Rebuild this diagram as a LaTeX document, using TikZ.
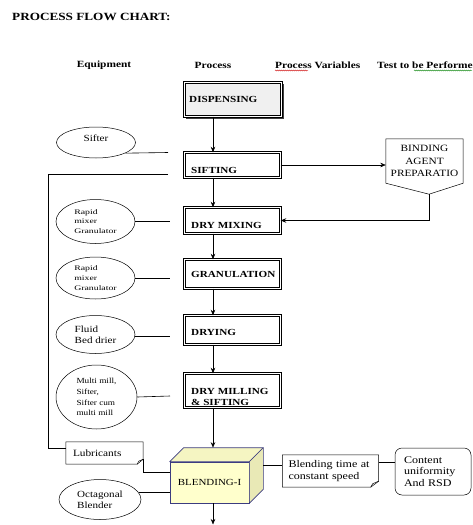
\documentclass[tikz,border=0pt]{standalone}
\usepackage{fontspec}
\setmainfont{Liberation Serif}
\newfontfamily\wrm[FakeStretch=1.18]{Liberation Serif}
\newfontfamily\wbf[FakeStretch=1.2]{Liberation Serif}
\newfontfamily\wnar[FakeStretch=1.4]{Liberation Serif}
\usetikzlibrary{shapes.geometric,arrows.meta,decorations.pathmorphing}
\definecolor{cubeline}{HTML}{3C3C80}
\definecolor{cubefront}{HTML}{FFFFCC}
\definecolor{cubetop}{HTML}{F5F5C2}
\definecolor{cubeside}{HTML}{E9E9B6}
\definecolor{dispfill}{HTML}{F0F0F0}
\tikzset{
  ln/.style={line width=0.6pt, draw=black},
  arr/.style={ln, -{Stealth[length=5.5pt,width=4.5pt]}},
  pbox/.style={draw, double, double distance=1.2pt, line width=0.45pt, fill=white, inner sep=0, minimum width=96pt},
  ptxt/.style={font=\wbf\bfseries\fontsize{9.3}{10.5}\selectfont, inner sep=0, anchor=west, align=left},
  hdr/.style={font=\wbf\bfseries\fontsize{9.5}{11}\selectfont, inner sep=0},
  ell/.style={ellipse, draw, line width=0.5pt, inner sep=0, align=left},
  etxt/.style={font=\wrm\fontsize{9.4}{11}\selectfont},
  rtxt/.style={font=\wnar\fontsize{7}{9.7}\selectfont},
  notebox/.style={inner sep=0, align=left},
}
\begin{document}
\begin{tikzpicture}[x=1pt,y=-1pt]
\useasboundingbox (0,0) rectangle (472,525);
% title and headers
\node[anchor=west, font=\wbf\bfseries\fontsize{11}{13}\selectfont, inner sep=0] (title) at (12,17) {PROCESS FLOW CHART:};
\node[hdr] (hEq) at (104,65) {Equipment};
\node[hdr] (hPr) at (213,65) {Process};
\node[hdr, anchor=west] (hPV) at (275,65) {Process Variables};
\node[hdr, anchor=west] (hTest) at (377,65) {Test to be Performed};
\draw[red!80!black, line width=0.4pt, decorate, decoration={snake, segment length=2pt, amplitude=0.5pt}] (275,70.5) -- (308,70.5);
\draw[green!50!black, line width=0.4pt, decorate, decoration={snake, segment length=2pt, amplitude=0.5pt}] (414,70.5) -- (472,70.5);

\coordinate (ax) at (213,0);

% process boxes
\draw[line width=1.6pt, black!75] (186,118) -- (283.5,118) -- (283.5,84);
\node[pbox, fill=dispfill, minimum width=97pt, minimum height=34pt] (disp) at (233,99.5) {};
\node[ptxt] (dispT) at (189,99.5) {DISPENSING};

\node[pbox, minimum height=25pt] (sift) at (232.5,165) {};
\node[ptxt] (siftT) at (191,170.5) {SIFTING};

\node[pbox, minimum height=26pt] (mix) at (232.5,220.5) {};
\node[ptxt] (mixT) at (191,225) {DRY MIXING};

\node[pbox, minimum height=29pt] (gran) at (232.5,274) {};
\node[ptxt] (granT) at (191,274.5) {GRANULATION};

\node[pbox, minimum height=29pt] (dry) at (232.5,330) {};
\node[ptxt] (dryT) at (191,332) {DRYING};

\node[pbox, minimum height=34pt] (mill) at (232.5,390.5) {};
\node[ptxt] (millT) at (191,397) {DRY MILLING\\\& SIFTING};

% cube
\node[draw=cubeline, fill=cubefront, line width=0.6pt, minimum width=79pt, minimum height=41pt, inner sep=0,
      font=\wrm\fontsize{9.3}{11}\selectfont] (blend) at (209.5,482.5) {BLENDING-I};
\draw[draw=cubeline, fill=cubetop, line width=0.6pt, line join=round]
  (blend.north west) -- ([shift={(14pt,14pt)}]blend.north west) -- ([shift={(14pt,14pt)}]blend.north east) -- (blend.north east) -- cycle;
\draw[draw=cubeline, fill=cubeside, line width=0.6pt, line join=round]
  (blend.north east) -- ([shift={(14pt,14pt)}]blend.north east) -- ([shift={(14pt,14pt)}]blend.south east) -- (blend.south east) -- cycle;

% vertical flow arrows
\draw[arr] (disp.south -| ax) -- (sift.north -| ax);
\draw[arr] (sift.south -| ax) -- (mix.north -| ax);
\draw[arr] (mix.south -| ax) -- (gran.north -| ax);
\draw[arr] (gran.south -| ax) -- (dry.north -| ax);
\draw[arr] (dry.south -| ax) -- (mill.north -| ax);
\coordinate (ctop) at ([yshift=14pt]blend.north -| ax);
\draw[arr] (mill.south -| ax) -- (ctop);
\coordinate (outc) at (213,524.5);
\draw[arr] (blend.south -| ax) -- (outc);

% binding agent
\node[notebox, align=center, minimum width=77pt, minimum height=44pt, font=\wrm\fontsize{9.6}{12.3}\selectfont] (bind) at (424.5,161) {BINDING\\AGENT\\PREPARATIO};
\coordinate (bindtip) at ([shift={(4.5pt,-11pt)}]bind.south);
\draw[line width=0.5pt] (bind.north west) -- (bind.north east) -- (bind.south east) -- (bindtip) -- (bind.south west) -- cycle;
\draw[arr] (sift.east) -- (sift.east -| bind.west);
\draw[arr] (bindtip) |- (mix.east);

% equipment ellipses
\node[ell, etxt, minimum width=79pt, minimum height=31pt] (sifter) at (96,142.5) {Sifter\\[-3pt]\mbox{}};
\coordinate (sifterEnd) at (168,152.5);
\draw[ln] (sifter.-20) -- (sifterEnd);

\node[ell, rtxt, minimum width=79pt, minimum height=44pt] (rm1) at (95.5,221.5) {Rapid\\mixer\\Granulator};
\coordinate (rm1End) at (170,221.5);
\draw[ln] (rm1.east) -- (rm1End);

\node[ell, rtxt, minimum width=79pt, minimum height=42pt] (rm2) at (95.5,278) {Rapid\\mixer\\Granulator};
\coordinate (rm2End) at (170,278);
\draw[ln] (rm2.east) -- (rm2End);

\node[ell, etxt, minimum width=79pt, minimum height=38pt] (fbd) at (95.5,334.5) {Fluid\\Bed drier};
\coordinate (fbdEnd) at (170,336);
\draw[ln] (fbd.east |- fbdEnd) ++(-0.5pt,0) -- (fbdEnd);

\node[ell, font=\wrm\fontsize{7.8}{10.8}\selectfont, minimum width=81pt, minimum height=64pt] (mm) at (96.5,397) {Multi mill,\\Sifter,\\Sifter cum\\multi mill};
\coordinate (mmEnd) at (170,396);
\draw[ln] (mm.east) -- (mmEnd);

\node[ell, etxt, minimum width=82pt, minimum height=40pt] (oct) at (100,499.5) {Octagonal\\Blender};
\draw[ln] (oct.10) -- (oct.10 -| blend.west);

% lubricants note
\node[notebox, text width=63pt, inner xsep=7pt, minimum height=22pt, font=\wrm\fontsize{9.6}{11}\selectfont] (lub) at (104.5,453) {Lubricants};
\draw[line width=0.5pt] (lub.north west) -- (lub.north east) -- ([yshift=5pt]lub.south east) -- ([xshift=-6pt]lub.south east) -- (lub.south west) -- cycle;
\draw[line width=0.5pt] ([xshift=-6pt]lub.south east) -- ([shift={(-4.5pt,3pt)}]lub.south east) -- ([yshift=5pt]lub.south east);
\coordinate (lubIn) at ([yshift=10.5pt]blend.west);
\draw[ln] ([yshift=5pt]lub.south east) |- (lubIn);

% loop from sifting to lubricants
\coordinate (lp) at (168,174);
\coordinate (lpc) at (48,448);
\draw[ln] (lp) -| (lpc) -- (lpc -| lub.west);

% process variable and test
\node[notebox, text width=84pt, inner xsep=6pt, minimum height=32pt, font=\wrm\fontsize{10.2}{12}\selectfont] (btime) at (330.5,471) {Blending time at\\constant speed};
\draw[line width=0.5pt] (btime.north west) -- (btime.north east) -- ([yshift=6pt]btime.south east) -- ([xshift=-8pt]btime.south east) -- (btime.south west) -- cycle;
\draw[line width=0.5pt] ([xshift=-8pt]btime.south east) -- ([shift={(-6pt,3.5pt)}]btime.south east) -- ([yshift=6pt]btime.south east);
\coordinate (blendR) at ([shift={(14pt,17.5pt)}]blend.east);
\draw[ln] (blendR) -- (blendR -| btime.west);

\node[notebox, draw, line width=0.5pt, rounded corners=7pt, text width=58pt, inner xsep=9pt, minimum height=47pt, font=\wrm\fontsize{10.2}{11.6}\selectfont] (cont) at (433,471.5) {Content\\uniformity\\And RSD};
\coordinate (btR) at ([yshift=9pt]btime.east);
\draw[ln] (btR) -- (btR -| cont.west);
\end{tikzpicture}
\end{document}
